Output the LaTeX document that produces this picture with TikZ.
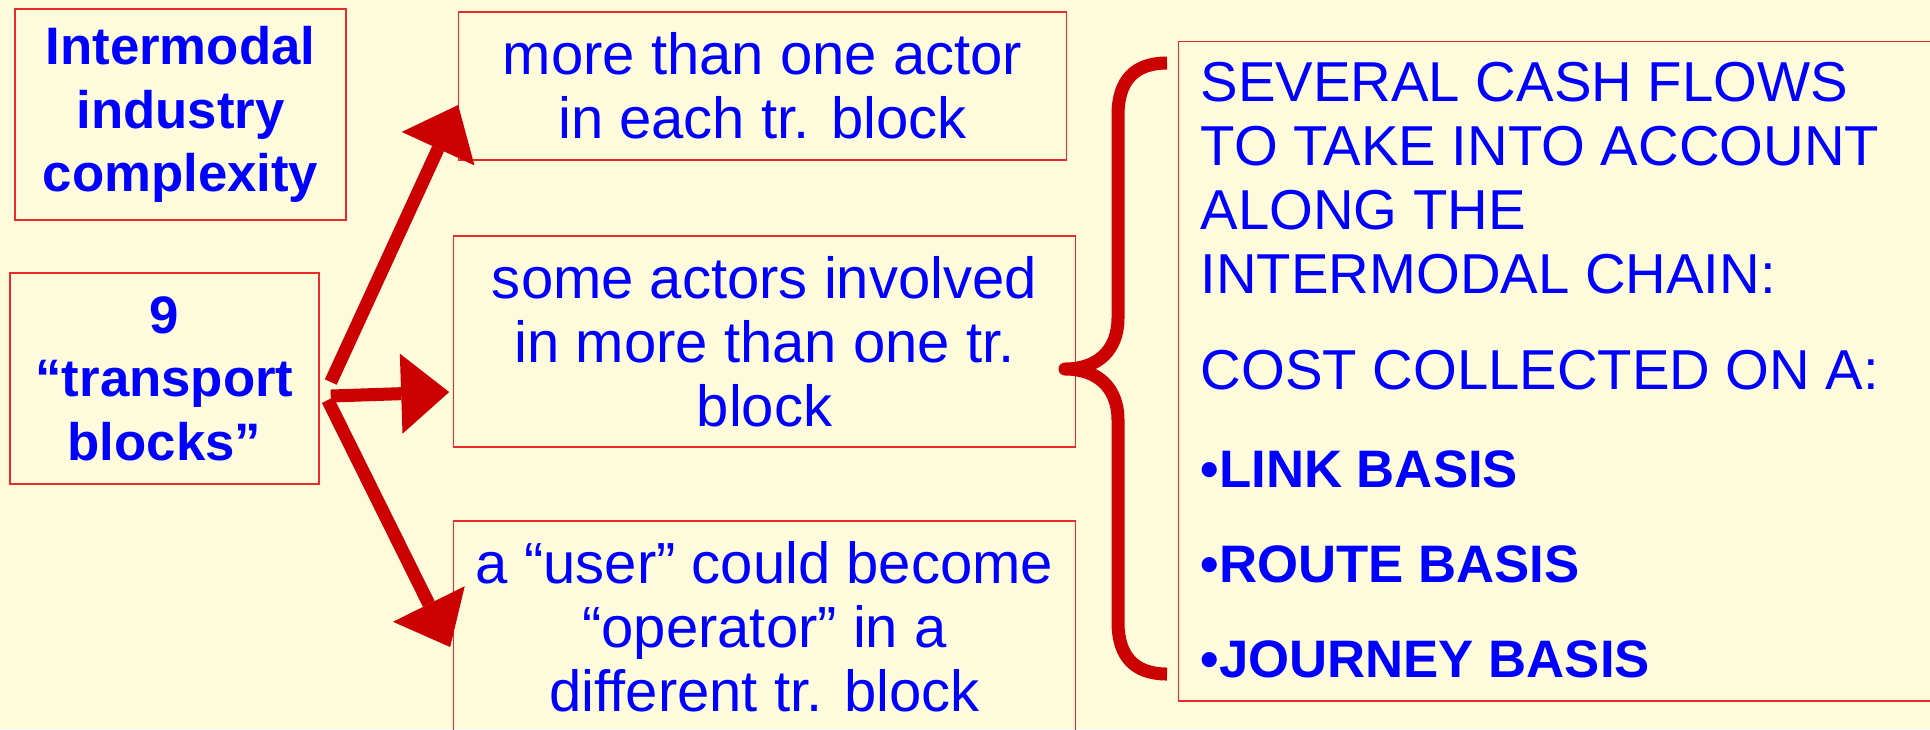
\documentclass[tikz,border=0pt]{standalone}
\usepackage{fontspec}
\setmainfont{Liberation Sans}
\usetikzlibrary{arrows.meta,positioning}
\definecolor{paper}{RGB}{253,251,220}
\definecolor{frame}{RGB}{232,42,42}
\definecolor{darkred}{RGB}{204,0,0}
\definecolor{inkblue}{RGB}{0,0,255}
\newcommand{\regtext}{\fontsize{16.5}{18.2}\selectfont}
\newcommand{\boldtext}{\fontsize{15}{18.1}\selectfont\bfseries}
\newcommand{\capstext}{\fontsize{16}{18.2}\selectfont}

\begin{document}
\begin{tikzpicture}[x = 0.01cm, y = -0.01cm,
  box/.style = {draw = frame, line width = 0.013cm, text = inkblue, align = center, inner sep = 0pt},
  bigarrow/.style = {draw = darkred, line width = 0.13cm, -{Triangle[length = 0.48cm, width = 0.8cm, line width = 0pt]}},
  line/.style = {anchor = base west, text = inkblue, inner sep = 0pt}]
\fill[paper] (0,0) rectangle (1930,729);
\useasboundingbox (0,0) rectangle (1930,729);
\clip (0,0) rectangle (1930,729);
\node[box, minimum width = 3.31cm, minimum height = 2.11cm, font = \boldtext] (complexity) at (180.5,114.5) {Intermodal\\industry\\complexity};
\node[box, minimum width = 3.09cm, minimum height = 2.11cm, font = \boldtext] (blocks) at (164.5,378.5) {9\\“transport\\blocks”};
\node[box, minimum width = 6.07cm, minimum height = 1.48cm, font = \regtext] (actor) at (762.5,86) {more than one actor\\in each tr. block};
\node[box, minimum width = 6.21cm, minimum height = 2.11cm, font = \regtext] (involved) at (764.5,341.5) {some actors involved\\in more than one tr.\\block};
\node[box, minimum width = 6.21cm, minimum height = 2.11cm, font = \regtext] (user) at (764.5,626.5) {a “user” could become\\“operator” in a\\different tr. block};
\node[box, minimum width = 7.7cm, minimum height = 6.59cm, anchor = north west] (flows) at (1178,41) {};
\node[line, font = \capstext] (several) at (1200,101) {SEVERAL CASH FLOWS};
\node[line, font = \capstext] (account) at (1200,165) {TO TAKE INTO ACCOUNT};
\node[line, font = \capstext] (along) at (1200,229) {ALONG THE};
\node[line, font = \capstext] (chain) at (1200,293) {INTERMODAL CHAIN:};
\node[line, font = \capstext] (collected) at (1200,389) {COST COLLECTED ON A:};
\node[line, font = \boldtext] (link) at (1200,487) {•LINK BASIS};
\node[line, font = \boldtext] (route) at (1200,582) {•ROUTE BASIS};
\node[line, font = \boldtext] (journey) at (1200,677) {•JOURNEY BASIS};
\coordinate (fork up) at ([xshift = 0.11cm, yshift = -0.035cm]blocks.east);
\coordinate (fork mid) at ([xshift = 0.11cm, yshift = -0.175cm]blocks.east);
\coordinate (fork down) at ([xshift = 0.08cm, yshift = -0.215cm]blocks.east);
\draw[bigarrow] (fork up) -- ([yshift = -0.19cm]actor.west);
\draw[bigarrow] (fork mid) -- ([xshift = -0.04cm, yshift = -0.505cm]involved.west);
\draw[bigarrow] (fork down) -- ([xshift = -0.03cm, yshift = -0.205cm]user.west);
\draw[darkred, line width = 0.13cm, line join = round] (1167,63) .. controls (1135,63) and (1118,80) .. (1118,115) -- (1118,318) .. controls (1118,350) and (1098,369) .. (1065,369) .. controls (1098,369) and (1118,388) .. (1118,420) -- (1118,622) .. controls (1118,657) and (1135,674) .. (1167,674);
\end{tikzpicture}
\end{document}
